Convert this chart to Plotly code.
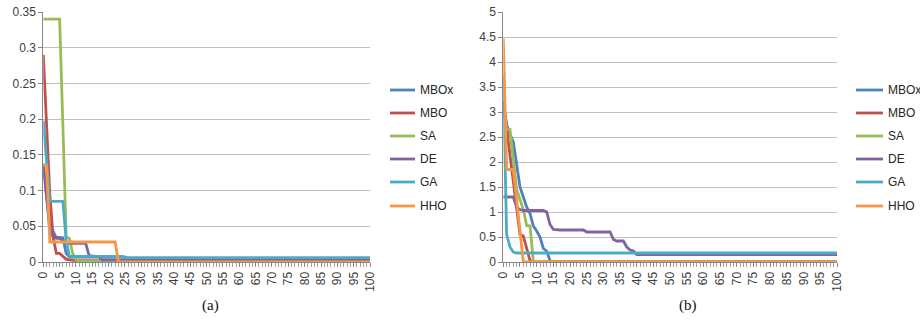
import plotly.graph_objects as go

iterations = list(range(0, 101))
tick_vals = list(range(0, 101, 5))
tick_text = [str(v) for v in tick_vals]
series_names = ["MBOx", "MBO", "SA", "DE", "GA", "HHO"]
colors = ["#4F81BD", "#C0504D", "#9BBB59", "#8064A2", "#4BACC6", "#F79646"]

# ---- panel (a) values, iterations 0..100 ----
mbox_a = [0.138, 0.09, 0.045, 0.035, 0.035, 0.035, 0.034, 0.012, 0.007] + [0.007] * 17 + [0.005] * 75
mbo_a = [0.29, 0.19, 0.095, 0.035, 0.012, 0.012, 0.008, 0.004, 0.003] + [0.002] * 6 + [0.001] * 86
sa_a = [0.34, 0.34, 0.34, 0.34, 0.34, 0.34, 0.19, 0.035, 0.033, 0.012, 0.003] + [0.001] * 90
de_a = [0.135, 0.09, 0.05, 0.043, 0.033, 0.033, 0.03, 0.026, 0.026, 0.026, 0.026, 0.026, 0.026, 0.026,
        0.009, 0.008, 0.008, 0.008] + [0.003] * 83
ga_a = [0.198, 0.14, 0.085, 0.085, 0.085, 0.085, 0.085, 0.03, 0.008] + [0.008] * 16 + [0.006] * 76
hho_a = [0.135, 0.135] + [0.028] * 21 + [0.0] * 78

# ---- panel (b) values, iterations 0..100 ----
mbox_b = [3.2, 2.75, 2.55, 2.4, 1.95, 1.5, 1.3, 1.1, 0.97, 0.72, 0.62, 0.5, 0.27, 0.22, 0.03] + [0.0] * 86
mbo_b = [3.2, 2.65, 2.1, 1.55, 1.1, 0.55, 0.52, 0.3, 0.03] + [0.0] * 92
sa_b = [3.1, 2.65, 2.65, 2.0, 1.45, 1.25, 1.05, 0.73, 0.72, 0.02] + [0.0] * 91
de_b = [1.3, 1.3, 1.3, 1.3, 1.1, 1.05, 1.03, 1.03, 1.03, 1.03, 1.03, 1.03, 1.03, 1.0, 0.75, 0.65] \
       + [0.64] * 9 + [0.6] * 8 + [0.45, 0.42, 0.42, 0.42, 0.3, 0.24, 0.22] + [0.15] * 61
ga_b = [3.7, 0.55, 0.3, 0.2] + [0.18] * 97
hho_b = [4.47, 1.85, 1.85, 1.85, 1.25, 0.6] + [0.0] * 95

data_a = [mbox_a, mbo_a, sa_a, de_a, ga_a, hho_a]
data_b = [mbox_b, mbo_b, sa_b, de_b, ga_b, hho_b]

W, H = 920, 329
ML, MR, MT, MB = 0, 0, 12, 67
PH = H - MT - MB

fig = go.Figure()
for i, (name, col) in enumerate(zip(series_names, colors)):
    fig.add_trace(go.Scatter(x=iterations, y=data_a[i], mode="lines", name=name,
                             line=dict(color=col, width=2.8), xaxis="x", yaxis="y",
                             showlegend=False))
for i, (name, col) in enumerate(zip(series_names, colors)):
    fig.add_trace(go.Scatter(x=iterations, y=data_b[i], mode="lines", name=name,
                             line=dict(color=col, width=2.8), xaxis="x2", yaxis="y2",
                             showlegend=False))

tick_font = dict(family="Liberation Sans, Arial, sans-serif", size=12, color="#404040")

def xax(domain, anchor):
    return dict(domain=domain, anchor=anchor, range=[0, 100], tickmode="array",
                tickvals=tick_vals, ticktext=tick_text, tickangle=-90,
                showgrid=False, zeroline=False, showline=True, linecolor="#868686",
                linewidth=1, ticks="outside", ticklen=4, tickcolor="#868686",
                tickfont=tick_font, automargin=False,
                minor=dict(dtick=1, tick0=0, ticks="outside", ticklen=4, tickcolor="#a0a0a0",
                           showgrid=False))

def yax(anchor, rng, dtick):
    return dict(domain=[0, 1], anchor=anchor, range=rng, dtick=dtick, tick0=0,
                showgrid=True, gridcolor="#bfbfbf", gridwidth=1, zeroline=False,
                showline=True, linecolor="#868686", linewidth=1, ticks="outside",
                ticklen=4, tickcolor="#868686", tickfont=tick_font, automargin=False)

# custom legend (line sample + label) for each panel, positioned in pixels
legend_rows_px = [90, 113, 136, 159, 182, 206]
legend_panels = [(390, 415, 418), (856, 883, 886)]

shapes = []
annotations = []
for (x0, x1, xt) in legend_panels:
    for name, col, ypx in zip(series_names, colors, legend_rows_px):
        yp = (H - MB - ypx) / PH
        shapes.append(dict(type="line", xref="paper", yref="paper",
                           x0=x0 / W, x1=x1 / W, y0=yp, y1=yp,
                           line=dict(color=col, width=2.8)))
        annotations.append(dict(text=name, x=xt / W, y=yp, xref="paper", yref="paper",
                                showarrow=False, xanchor="left", yanchor="middle",
                                font=dict(family="Liberation Sans, Arial, sans-serif",
                                          size=12, color="#262626")))

for label, xpx in [("(a)", 210), ("(b)", 688)]:
    annotations.append(dict(text=label, x=xpx / W, y=(H - MB - 305) / PH,
                            xref="paper", yref="paper", showarrow=False,
                            xanchor="center", yanchor="middle",
                            font=dict(family="Liberation Serif, serif", size=15, color="#111111")))

fig.update_layout(
    width=W, height=H,
    margin=dict(l=ML, r=MR, t=MT, b=MB, pad=0),
    paper_bgcolor="white", plot_bgcolor="white",
    template="none",
    showlegend=False,
    xaxis=xax([43.3 / W, 370 / W], "y"),
    yaxis=yax("x", [0, 0.35], 0.05),
    xaxis2=xax([503.3 / W, 837 / W], "y2"),
    yaxis2=yax("x2", [0, 5], 0.5),
    shapes=shapes,
    annotations=annotations,
)

fig.write_html("out.html",
               config={"displayModeBar": False, "staticPlot": True},
               post_script="document.body.style.margin='0px';document.body.style.overflow='hidden';")
